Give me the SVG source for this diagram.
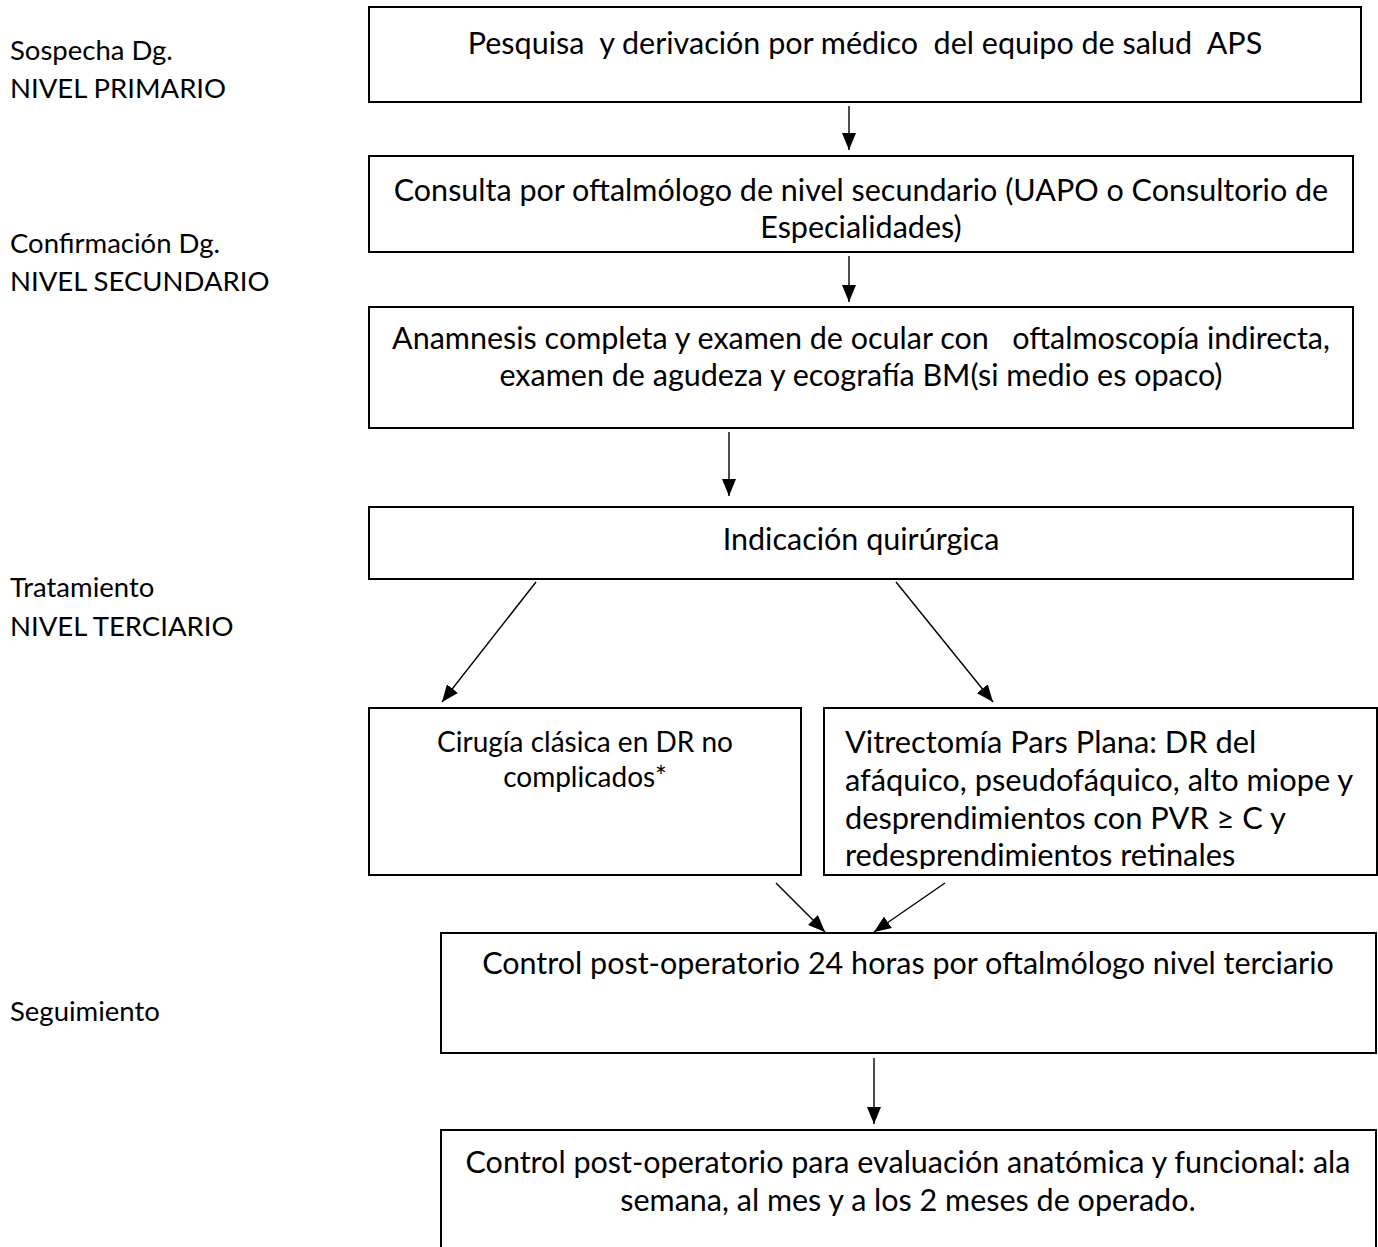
<svg xmlns="http://www.w3.org/2000/svg" width="1378" height="1247" viewBox="0 0 1378 1247">
<style>
text{font-family:Lato,"Liberation Sans",sans-serif;fill:#000;white-space:pre}
.lbl{font-size:27.5px}
.t{font-size:30.5px;text-anchor:middle}
.t5{font-size:28px;text-anchor:middle}
.t6{font-size:30.8px}
.box{fill:#fff;stroke:#000;stroke-width:2}
.con{stroke:#000;stroke-width:1.4;fill:none;marker-end:url(#ah)}
</style>
<defs>
<marker id="ah" markerUnits="userSpaceOnUse" markerWidth="17" markerHeight="14" refX="17" refY="7" orient="auto">
<path d="M0,0 L17,7 L0,14 z" fill="#000"/>
</marker>
<clipPath id="c6"><rect x="824" y="708" width="553" height="161"/></clipPath>
</defs>
<rect width="1378" height="1247" fill="#fff"/>
<g id="labels">
<text class="lbl" x="10" y="60">Sospecha Dg.</text>
<text class="lbl" x="10" y="98">NIVEL PRIMARIO</text>
<text class="lbl" x="10" y="253">Confirmación Dg.</text>
<text class="lbl" x="10" y="291">NIVEL SECUNDARIO</text>
<text class="lbl" x="10" y="597">Tratamiento</text>
<text class="lbl" x="10" y="636">NIVEL TERCIARIO</text>
<text class="lbl" x="10" y="1021">Seguimiento</text>
</g>
<g id="n1">
<rect class="box" x="369" y="7" width="992" height="95"/>
<text class="t" x="865" y="54">Pesquisa  y derivación por médico  del equipo de salud  APS</text>
</g>
<g id="n2">
<rect class="box" x="369" y="156" width="984" height="96"/>
<text class="t" x="861" y="201">Consulta por oftalmólogo de nivel secundario (UAPO o Consultorio de</text>
<text class="t" x="861" y="238">Especialidades)</text>
</g>
<g id="n3">
<rect class="box" x="369" y="307" width="984" height="121"/>
<text class="t" x="861" y="349">Anamnesis completa y examen de ocular con   oftalmoscopía indirecta,</text>
<text class="t" x="861" y="386">examen de agudeza y ecografía BM(si medio es opaco)</text>
</g>
<g id="n4">
<rect class="box" x="369" y="507" width="984" height="72"/>
<text class="t" x="861" y="550">Indicación quirúrgica</text>
</g>
<g id="n5">
<rect class="box" x="369" y="708" width="432" height="167"/>
<text class="t5" x="585" y="752">Cirugía clásica en DR no</text>
<text class="t5" x="585" y="787">complicados*</text>
</g>
<g id="n6">
<rect class="box" x="824" y="708" width="553" height="167"/>
<g clip-path="url(#c6)">
<text class="t6" x="845" y="753">Vitrectomía Pars Plana: DR del</text>
<text class="t6" x="845" y="791">afáquico, pseudofáquico, alto miope y</text>
<text class="t6" x="845" y="829">desprendimientos con PVR ≥ C y</text>
<text class="t6" x="845" y="866">redesprendimientos retinales</text>
</g>
</g>
<g id="n7">
<rect class="box" x="441" y="933" width="935" height="120"/>
<text class="t" x="908" y="974">Control post-operatorio 24 horas por oftalmólogo nivel terciario</text>
</g>
<g id="n8">
<rect class="box" x="441" y="1130" width="935" height="130"/>
<text class="t" x="908" y="1173">Control post-operatorio para evaluación anatómica y funcional: ala</text>
<text class="t" x="908" y="1211">semana, al mes y a los 2 meses de operado.</text>
</g>
<g id="connectors">
<line class="con" x1="849" y1="106" x2="849" y2="150"/>
<line class="con" x1="849" y1="256" x2="849" y2="302"/>
<line class="con" x1="729" y1="432" x2="729" y2="496"/>
<line class="con" x1="536" y1="582" x2="442" y2="702"/>
<line class="con" x1="896" y1="582" x2="993" y2="702"/>
<line class="con" x1="776" y1="883" x2="825" y2="932"/>
<line class="con" x1="945" y1="883" x2="874" y2="932"/>
<line class="con" x1="874" y1="1058" x2="874" y2="1124"/>
</g>
</svg>
